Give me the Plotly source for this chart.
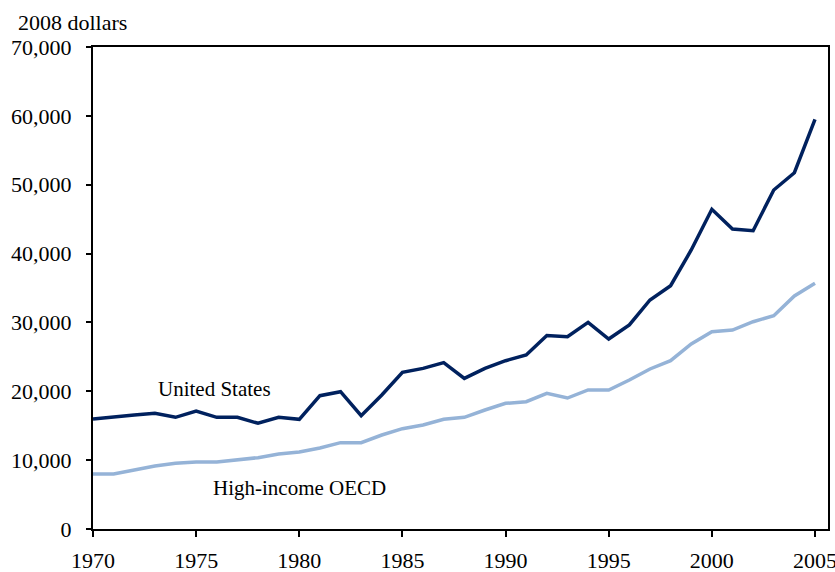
import plotly.graph_objects as go

# GDP per capita, 2008 dollars
years = list(range(1970, 2006))
us = [15970, 16310, 16560, 16800, 16220, 17140, 16220, 16220, 15350, 16220,
      15930, 19360, 19940, 16460, 19460, 22750, 23330, 24160, 21880, 23330,
      24440, 25270, 28100, 27930, 30010, 27590, 29630, 33260, 35330, 40520,
      46430, 43570, 43320, 49230, 51740, 59500]
oecd = [7990, 7990, 8570, 9150, 9540, 9730, 9730, 10020, 10360, 10890,
        11180, 11760, 12540, 12540, 13650, 14570, 15100, 15930, 16220, 17280,
        18250, 18490, 19700, 19020, 20190, 20190, 21640, 23240, 24440, 26870,
        28660, 28900, 30100, 30980, 33840, 35680]

x_ticks = [1970, 1975, 1980, 1985, 1990, 1995, 2000, 2005]
y_ticks = [0, 10000, 20000, 30000, 40000, 50000, 60000, 70000]

serif = "Liberation Serif"

fig = go.Figure()
fig.add_trace(go.Scatter(x=years, y=us, mode="lines",
                         line=dict(color="#00215E", width=3.5), name="United States"))
fig.add_trace(go.Scatter(x=years, y=oecd, mode="lines",
                         line=dict(color="#95B3D7", width=3.5), name="High-income OECD"))

# series labels
fig.add_annotation(x=1975.9, y=20300, text="United States", showarrow=False,
                   font=dict(size=21, color="black", family=serif))
fig.add_annotation(x=1980.0, y=5950, text="High-income OECD", showarrow=False,
                   font=dict(size=21, color="black", family=serif))
# unit label above the y axis
fig.add_annotation(x=0, xref="paper", xanchor="left", xshift=-77,
                   y=1, yref="paper", yanchor="middle", yshift=25,
                   text="2008 dollars", showarrow=False,
                   font=dict(size=22, color="black", family=serif))

fig.update_layout(
    template="none",
    width=835, height=572,
    margin=dict(l=93, r=7, t=47, b=43),
    paper_bgcolor="white", plot_bgcolor="white",
    showlegend=False,
    font=dict(family=serif, size=22, color="black"),
    xaxis=dict(range=[1970, 2005.63], tickvals=x_ticks, showgrid=False, zeroline=False,
               automargin=False, showline=True, linecolor="black", linewidth=2, mirror=True,
               ticks="outside", ticklen=6, tickwidth=1.5, tickcolor="black",
               ticklabelstandoff=5, ticklabeloverflow="allow"),
    yaxis=dict(range=[0, 70000], tickvals=y_ticks, tickformat=",", showgrid=False,
               zeroline=False, automargin=False, showline=True, linecolor="black",
               linewidth=2, mirror=True,
               ticks="outside", ticklen=5, tickwidth=1.5, tickcolor="black",
               ticklabelstandoff=10),
)

# drop the default page margin so the figure fills the window
fig.write_html("out.html", config={"displayModeBar": False},
               post_script="document.body.style.margin='0px';")
